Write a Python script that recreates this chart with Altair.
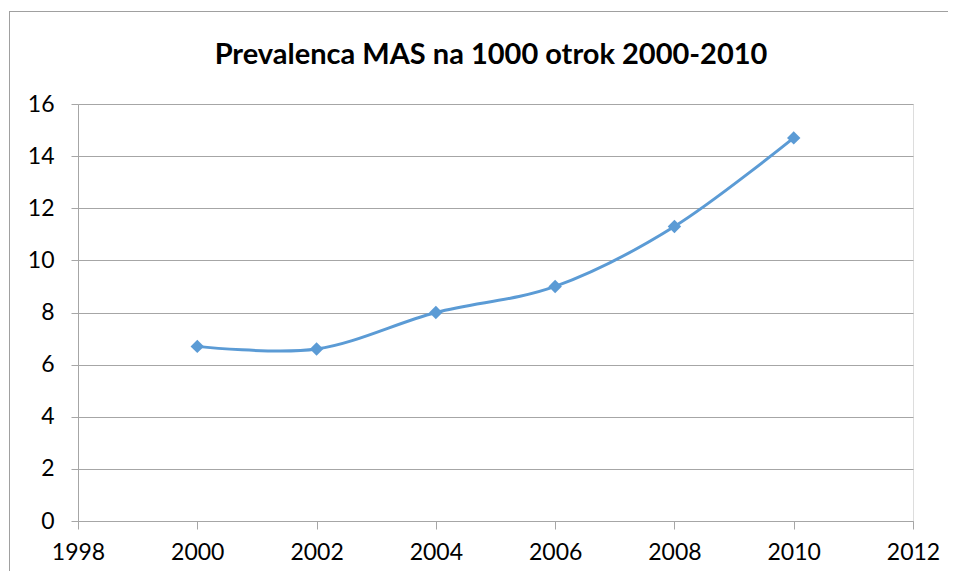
import altair as alt
import pandas as pd

years = [2000, 2002, 2004, 2006, 2008, 2010]
values = [6.7, 6.6, 8.0, 9.0, 11.3, 14.7]
title_text = "Prevalenca MAS na 1000 otrok 2000-2010"
x_ticks = [1998, 2000, 2002, 2004, 2006, 2008, 2010, 2012]
y_ticks = [0, 2, 4, 6, 8, 10, 12, 14, 16]

df = pd.DataFrame({"year": years, "value": values})
FONT = "Lato"
BLUE = "#5B9BD5"
GRID = "#A6A6A6"

x = alt.X("year:Q", scale=alt.Scale(domain=[1998, 2012], nice=False, zero=False),
          axis=alt.Axis(values=x_ticks, format="d", title=None, grid=False, labelFlush=False,
                        tickSize=8, tickColor=GRID, domainColor=GRID, labelPadding=12,
                        labelFontSize=23, labelFont=FONT, labelColor="#000000"))
y = alt.Y("value:Q", scale=alt.Scale(domain=[0, 16], nice=False),
          axis=alt.Axis(values=y_ticks, title=None, grid=True, gridColor=GRID,
                        tickSize=7, tickColor=GRID, domainColor=GRID, labelPadding=17,
                        labelFontSize=23, labelFont=FONT, labelColor="#000000"))

base = alt.Chart(df)

top_edge = base.mark_rule(stroke="#A0A0A0", strokeWidth=1, clip=False).encode(
    x=alt.value(-68.5), x2=alt.value(870), y=alt.value(-92.5)
)
left_edge = base.mark_rule(stroke="#A0A0A0", strokeWidth=1, clip=False).encode(
    x=alt.value(-68.5), y=alt.value(-92.5), y2=alt.value(470)
)

line = base.mark_line(color=BLUE, strokeWidth=3, interpolate="cardinal", tension=0).encode(x=x, y=y)
pts = base.mark_point(shape="diamond", filled=True, color=BLUE, size=180, opacity=1).encode(x=x, y=y)

title = alt.Chart(pd.DataFrame({"t": [title_text]})).mark_text(
    font=FONT, fontSize=29, fontWeight="bold", color="#000000", baseline="middle", align="center"
).encode(text="t:N", x=alt.value(413), y=alt.value(-49))

chart = alt.layer(top_edge, left_edge, line, pts, title).properties(
    width=835, height=417,
    autosize=alt.AutoSizeParams(type="none"),
    padding={"left": 70, "top": 96, "right": 35, "bottom": 50},
).configure_view(stroke=None).configure(background="#ffffff")

chart.save("out.html", embed_options={"renderer": "svg", "actions": False})
